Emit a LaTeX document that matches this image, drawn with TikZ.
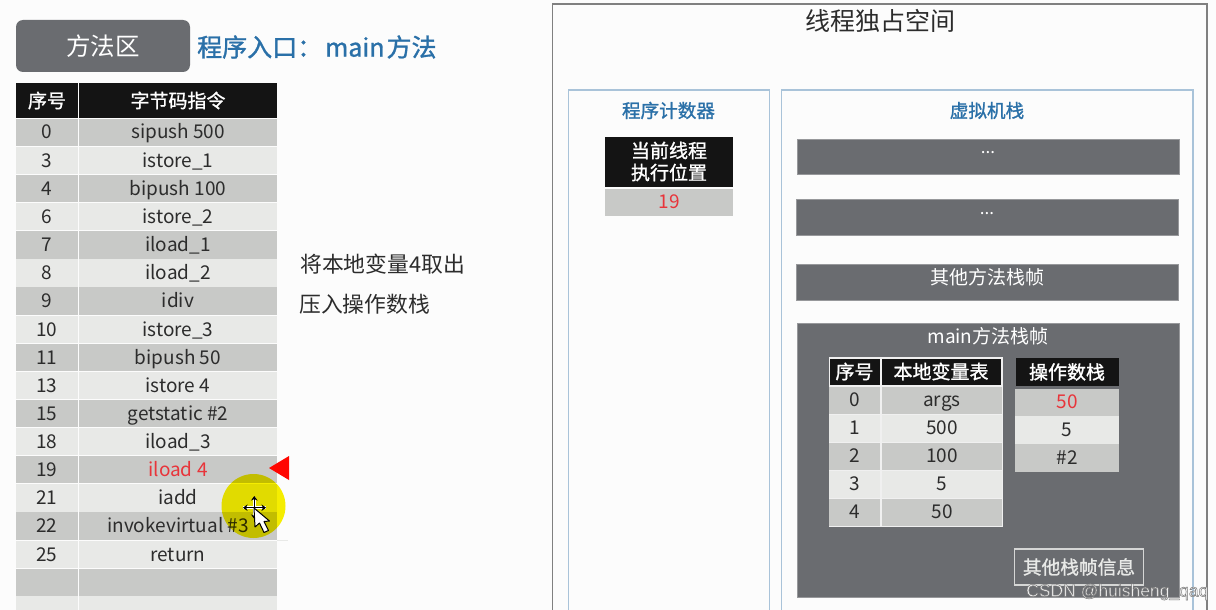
\documentclass[tikz,border=0pt]{standalone}
\usepackage{fontspec}
\usetikzlibrary{arrows.meta}
\setmainfont{Noto Sans CJK SC}
\newfontfamily\med[FakeBold=1.2]{Noto Sans CJK SC}
\newfontfamily\wm{Liberation Sans}
\definecolor{rowd}{HTML}{C8C9C7}
\definecolor{rowl}{HTML}{E8E9E7}
\definecolor{head}{HTML}{141414}
\definecolor{slate}{HTML}{6A6C70}
\definecolor{tbl}{HTML}{2C2C2C}
\definecolor{blu}{HTML}{2A70A8}
\definecolor{frameb}{HTML}{A9C3D9}
\definecolor{redt}{HTML}{E8343A}
\definecolor{hl}{HTML}{F8F000}
\tikzset{
  hcell/.style={fill=head,text=white,inner sep=0pt,font=\fontsize{#1}{#1}\selectfont\med,anchor=center},
  hcell/.default=19,
  lbl/.style={inner sep=0pt,anchor=center},
  box/.style={draw=frameb,line width=1.2pt,fill=none},
  panelbar/.style={fill=slate,draw=slate!70!white,line width=.6pt}
}
\newcommand{\rowbox}[8]{% x0 x1 yc h fill name text textcolor
  \node[inner sep=0pt,minimum width=#2pt-#1pt,minimum height=#4pt,text height=15.5pt,text depth=2.5pt,fill=#5,text=#8,font=\fontsize{19}{19}\selectfont,anchor=center] (#6) at ({(#1+#2)/2},#3) {#7};}
\begin{document}
\begin{tikzpicture}[x=1pt,y=-1pt]
\useasboundingbox (0,0) rectangle (1216,610);
\fill[white!98!gray] (0,0) rectangle (1216,610);
% method area
\node[fill=slate,rounded corners=7pt,minimum width=174pt,minimum height=52pt,inner sep=0pt,text=white,font=\fontsize{24.5}{24.5}\selectfont,anchor=center] (ma) at (103,46) {方法区};
\node[lbl,text=blu,font=\fontsize{25}{25}\selectfont\med,anchor=west] (entry) at (197,47) {程序入口：\hspace{3pt}main\hspace{2pt}方法};
% left table
\node[hcell,minimum width=62pt,minimum height=34pt] (h1) at (47,100.5) {序号};
\node[hcell,minimum width=198pt,minimum height=34pt] (h2) at (178,100.5) {字节码指令};
\foreach \i/\yc/\f/\a/\b/\tc in {
 0/132.5/rowd/0/sipush 500/tbl,
 1/160.5/rowl/3/istore\_1/tbl,
 2/188.5/rowd/4/bipush 100/tbl,
 3/216.5/rowl/6/istore\_2/tbl,
 4/245/rowd/7/iload\_1/tbl,
 5/273/rowl/8/iload\_2/tbl,
 6/301/rowd/9/idiv/tbl,
 7/329.5/rowl/10/istore\_3/tbl,
 8/357.5/rowd/11/bipush 50/tbl,
 9/385.5/rowl/13/istore 4/tbl,
 10/413.5/rowd/15/getstatic \#2/tbl,
 11/441.5/rowl/18/iload\_3/tbl,
 12/469.5/rowd/19/iload 4/redt,
 13/498/rowl/21/iadd/tbl,
 14/526/rowd/22/invokevirtual \#3/tbl,
 15/554.5/rowl/25/return/tbl,
 16/582.5/rowd//{}/tbl,
 17/610/rowl//{}/tbl}{
  \rowbox{16}{77.5}{\yc}{27.2}{\f}{n\i}{\a}{tbl}
  \rowbox{79}{277}{\yc}{27.2}{\f}{c\i}{\b}{\tc}
}
% hint
\node[lbl,text=tbl,font=\fontsize{21.8}{21.8}\selectfont,anchor=west] (hint1) at (300,264.5) {将本地变量4取出};
\node[lbl,text=tbl,font=\fontsize{21.8}{21.8}\selectfont,anchor=west] (hint2) at (299,304) {压入操作数栈};
% pointer
\coordinate (tipa) at (269,468);
\coordinate (tipb) at (289,456);
\coordinate (tipc) at (289,480);
\fill[red!95!orange] (tipa) -- (tipb) -- (tipc) -- cycle;
% highlight and cursor
\draw[rowl,line width=.8pt] (277,540) -- (288,540);
\begin{scope}[blend mode=multiply]
\fill[hl] (253.5,506) circle (32);
\end{scope}
\draw[white,line width=3.2pt] (254.3,497) -- (254.3,518) (243,507.7) -- (266,507.7);
\draw[black,line width=1.5pt,{Stealth[length=4.5pt,width=6.5pt]}-{Stealth[length=4.5pt,width=6.5pt]}] (254.3,496) -- (254.3,519);
\draw[black,line width=1.5pt,{Stealth[length=4.5pt,width=6.5pt]}-{Stealth[length=4.5pt,width=6.5pt]}] (243,507.7) -- (266,507.7);
\filldraw[fill=white,draw=black,line width=1pt,line join=round] (254,508) -- (255,527) -- (259.5,523) -- (264,532.5) -- (268.5,530.5) -- (264,521.5) -- (269.5,521) -- cycle;
% thread space
\draw[draw=black!50,line width=1.2pt] (552.5,4) rectangle (1207,620);
\node[lbl,text=tbl,font=\fontsize{25}{25}\selectfont] (tt) at (880,21) {线程独占空间};
\draw[box] (568.5,90) rectangle (769.5,620);
\draw[box] (781.5,90) rectangle (1193,620);
\node[lbl,text=blu,font=\fontsize{18.6}{18.6}\selectfont\med] (pc) at (668.5,110.5) {程序计数器};
\node[lbl,text=blu,font=\fontsize{18.6}{18.6}\selectfont\med] (vm) at (987,110.5) {虚拟机栈};
\node[fill=head,text=white,inner sep=0pt,minimum width=128pt,minimum height=50pt,align=center,font=\fontsize{19}{22}\selectfont\med] (cur) at (669,161.5) {当前线程\\执行位置};
\node[fill=rowd,text=redt,inner sep=0pt,minimum width=128pt,minimum height=27pt,font=\fontsize{19}{19}\selectfont] (curv) at (669,202) {19};
% frames
\path[panelbar] (797.5,139.5) rectangle (1179,174.5);
\path[panelbar] (796.5,199.5) rectangle (1178.5,235);
\path[panelbar] (796.5,264.5) rectangle (1178.5,300);
\node[lbl,text=white,font=\fontsize{17}{17}\selectfont] (d1) at (988,153) {...};
\node[lbl,text=white,font=\fontsize{17}{17}\selectfont] (d2) at (987,214) {...};
\node[lbl,text=white,font=\fontsize{19}{19}\selectfont] (other) at (987,277.5) {其他方法栈帧};
\path[panelbar] (797.5,323) rectangle (1179,597);
\node[lbl,text=white,font=\fontsize{19}{19}\selectfont] (mf) at (988,336.5) {main方法栈帧};
% locals table
\fill[white!88!gray] (828.5,356.5) rectangle (1002.5,527);
\node[hcell,minimum width=50pt,minimum height=26pt] (lh1) at (854.5,371.5) {序号};
\node[hcell,minimum width=119pt,minimum height=26pt] (lh2) at (941,371.5) {本地变量表};
\foreach \i/\yc/\f/\a/\b in {0/400/rowd/0/args,1/428/rowl/1/500,2/456/rowd/2/100,3/484/rowl/3/5,4/512/rowd/4/50}{
  \rowbox{829}{880}{\yc}{27}{\f}{ln\i}{\a}{tbl}
  \rowbox{882}{1002}{\yc}{27}{\f}{lv\i}{\b}{tbl}
}
% operand stack
\node[hcell,minimum width=103pt,minimum height=28pt] (oh) at (1067,372) {操作数栈};
\rowbox{1015}{1119}{402}{27}{rowd}{o0}{50}{redt}
\rowbox{1015}{1119}{430}{28}{rowl}{o1}{5}{tbl}
\rowbox{1015}{1119}{458}{28}{rowd}{o2}{\#2}{tbl}
% other info
\node[draw=rowl!85!slate,line width=1.2pt,fill=slate,text=rowl,inner sep=0pt,minimum width=129pt,minimum height=36pt,font=\fontsize{18.7}{18.7}\selectfont\med] (info) at (1079,567) {其他栈帧信息};
% watermark
\node[lbl,anchor=west,text=white!88!gray,font=\wm\fontsize{17.5}{17.5}\selectfont] (wmk) at (1026,592) {\special{pdf:code 2 Tr 0.45 w 0.45 0.45 0.45 RG}CSDN @huisheng\_qaq\special{pdf:code 0 Tr 0 0 0 RG}};
\end{tikzpicture}
\end{document}
